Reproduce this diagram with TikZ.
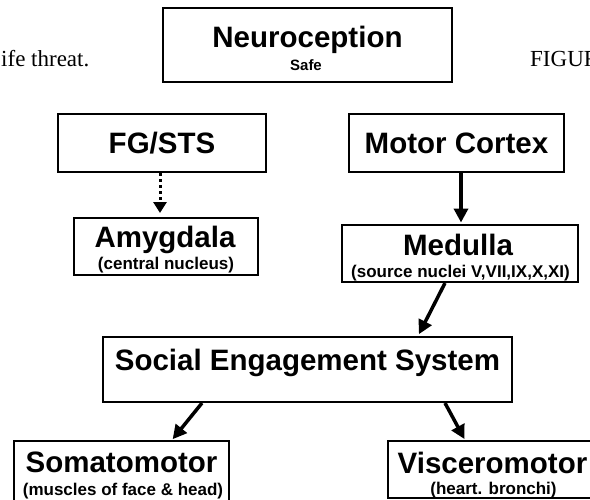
\documentclass[tikz,border=0pt]{standalone}
\usepackage{fontspec}
\setmainfont{Liberation Serif}
\newfontfamily\arialfont{Liberation Sans}
\usetikzlibrary{arrows.meta}
\begin{document}
\begin{tikzpicture}[x=1pt,y=-1pt,
  box/.style={draw=black, line width=2pt, rectangle, inner sep=0pt, fill=white},
  big/.style={font=\arialfont\bfseries\fontsize{29.5}{32}\selectfont, anchor=base, inner sep=0pt},
  small/.style={font=\arialfont\bfseries\fontsize{17}{19}\selectfont, anchor=base, inner sep=0pt},
  tiny/.style={font=\arialfont\bfseries\fontsize{15}{17}\selectfont, anchor=base, inner sep=0pt},
  serif/.style={font=\fontsize{23}{26}\selectfont, anchor=base west, inner sep=0pt},
  arr/.style={line width=3.5pt, -{Triangle[length=14pt,width=14pt]}},
  dotarr/.style={line width=3pt, dash pattern=on 3pt off 3pt, -{Triangle[length=11pt,width=13pt]}}]
\useasboundingbox (0,0) rectangle (590,499);
\fill[white] (0,0) rectangle (590,499);
\clip (0,0) rectangle (590,499);

% boxes
\node[box, minimum width=289pt, minimum height=74pt] (neu) at (307.5,45) {};
\node[box, minimum width=208pt, minimum height=58pt] (fg)  at (162,143) {};
\node[box, minimum width=215pt, minimum height=58pt] (mc)  at (456.5,143) {};
\node[box, minimum width=184pt, minimum height=57pt] (amy) at (166,246.5) {};
\node[box, minimum width=236pt, minimum height=57pt] (med) at (460,253.5) {};
\node[box, minimum width=409pt, minimum height=65pt] (ses) at (307.5,369.5) {};
\node[box, minimum width=215pt, minimum height=62pt] (som) at (121.5,472) {};
\node[box, minimum width=209pt, minimum height=56.5pt] (vis) at (492.5,469.25) {};

% texts
\node[big]  (tneu)  at (307.5,47) {Neuroception};
\node[tiny] (tsafe) at (306,70) {Safe};
\node[serif] (tlife) at (1,66) {ife threat.};
\node[serif] (tfig)  at (530,66) {FIGURE};
\node[big]  (tfg)   at (162,153) {FG/STS};
\node[big]  (tmc)   at (456.5,153) {Motor Cortex};
\node[big]  (tamy)  at (165,247) {Amygdala};
\node[small] (tamy2) at (166,269) {(central nucleus)};
\node[big]  (tmed)  at (458,255) {Medulla};
\node[small] (tmed2) at (460.5,277) {(source nuclei V,VII,IX,X,XI)};
\node[big]  (tses)  at (307.5,370) {Social Engagement System};
\node[big]  (tsom)  at (121.5,472) {Somatomotor};
\node[small] (tsom2) at (123,495) {(muscles of face \& head)};
\node[big]  (tvis)  at (492.5,473) {Visceromotor};
\node[small] (tvis2) at (493.5,494) {(heart. bronchi)};

% connectors
\draw[dotarr, shorten >=4pt] ([xshift=-2pt]fg.south) -- ([xshift=-2pt]fg.south |- amy.north);
\draw[arr, shorten >=1.5pt] ([xshift=4.5pt]mc.south) -- ([xshift=4.5pt]mc.south |- med.north);
\draw[arr, shorten >=2pt] ([xshift=-15pt]med.south) -- ([xshift=110.5pt]ses.north);
\draw[arr, shorten >=1pt] ([xshift=-105.5pt]ses.south) -- ([xshift=50.5pt]som.north);
\draw[arr, shorten >=1pt] ([xshift=137.5pt]ses.south) -- ([xshift=-27.5pt]vis.north);
\end{tikzpicture}
\end{document}
